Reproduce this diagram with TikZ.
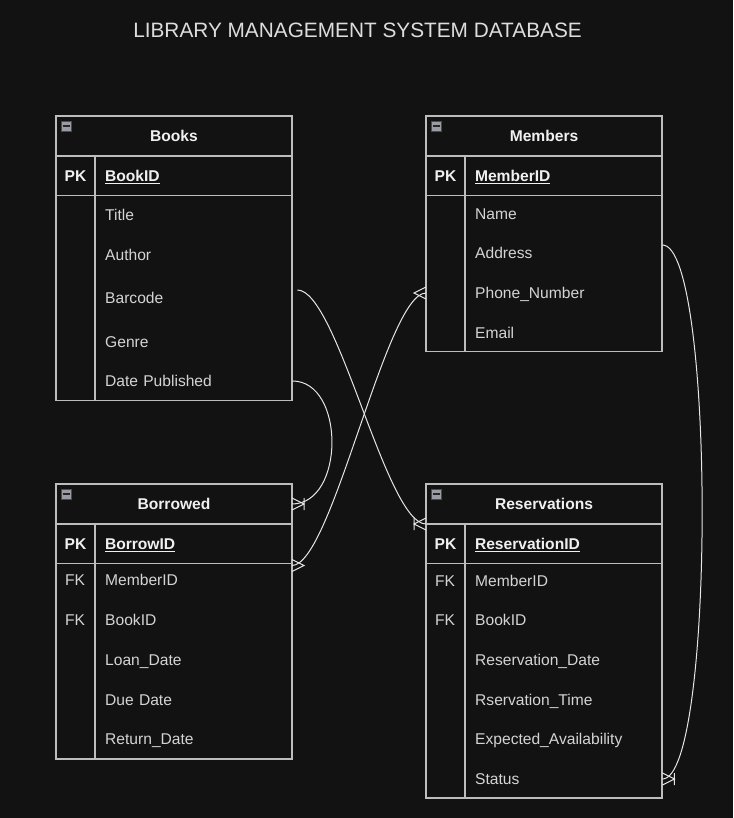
\documentclass[tikz,border=0pt]{standalone}
\usepackage{fontspec}
\setmainfont{Liberation Sans}
\usepackage{tikz}
\usetikzlibrary{positioning}

\definecolor{bgcol}{HTML}{121212}
\definecolor{linecol}{HTML}{BDBDBD}
\definecolor{edgecol}{HTML}{E6E6E6}
\definecolor{headcol}{HTML}{F0F0F0}
\definecolor{rowcol}{HTML}{D4D4D4}
\definecolor{btncol}{HTML}{9A9CA3}

\newcommand{\bodyfont}{\fontsize{15.6}{18}\selectfont}

\begin{document}
\begin{tikzpicture}[x=1pt, y=-1pt,
		tbl/.style={draw=linecol, line width=1.3pt, outer sep=0pt},
		hdr/.style={tbl, minimum width=236pt, minimum height=40pt, inner sep=0pt,
			font=\bodyfont\bfseries, text=headcol, text height=11.2pt, text depth=0pt},
		keycell/.style={tbl, minimum width=39pt, minimum height=39.5pt, inner sep=0pt,
			font=\bodyfont\bfseries, text=headcol, text height=11.2pt, text depth=0pt},
		fieldcell/.style={tbl, text width=177pt, inner xsep=10pt, inner ysep=0pt,
			minimum height=39.5pt, align=left,
			font=\bodyfont\bfseries, text=headcol, text height=11.2pt, text depth=0pt},
		keycol/.style={tbl, minimum width=39pt, inner sep=0pt},
		fieldcol/.style={tbl, minimum width=197pt, inner sep=0pt},
		row/.style={anchor=west, text width=177pt, inner xsep=10pt, inner ysep=0pt, align=left,
			font=\bodyfont, text=rowcol, text height=11.2pt, text depth=0pt},
		keytxt/.style={inner sep=0pt, font=\bodyfont, text=rowcol, text height=11.2pt, text depth=0pt},
		minusbtn/.style={draw=gray!60!black, fill=btncol, line width=0.5pt, minimum size=10pt,
			inner sep=0pt, anchor=north west,
			path picture={\draw[black!85, line width=1.6pt]
				([xshift=1.5pt]path picture bounding box.west) --
				([xshift=-1.5pt]path picture bounding box.east);}},
		conn/.style={draw=edgecol, line width=1pt},
		pics/crowfoot/.style={code={\draw[conn] (0,-6) -- (-12,0) -- (0,6);}},
		pics/crowbar/.style={code={\draw[conn] (0,-6) -- (-12,0) -- (0,6) (-12,-6) -- (-12,6);}}
		]

		\fill[bgcol] (0,0) rectangle (733,818);
		\useasboundingbox (0,0) rectangle (733,818);

		\node[font=\fontsize{20.8}{24}\selectfont, text=headcol!92!black] (title) at (357.5,30)
			{LIBRARY MANAGEMENT SYSTEM DATABASE};

		% Books
		\node[hdr, anchor=north west] (bk-hd) at (56,116) {Books};
		\node[keycell, anchor=north west] (bk-pkk) at (bk-hd.south west) {PK};
		\node[fieldcell, right=0pt of bk-pkk] (bk-pkf) {\underline{BookID}};
		\node[keycol, anchor=north west, minimum height=205pt] (bk-keys) at (bk-pkk.south west) {};
		\node[fieldcol, anchor=north west, minimum height=205pt] (bk-body) at (bk-keys.north east) {};
		\foreach \y/\n/\t in {215/title/Title, 255/author/Author, 298/barcode/Barcode,
			342/genre/Genre, 381/date/Date Published}
			\node[row] (bk-\n) at (95,\y) {\t};

		% Members
		\node[hdr, anchor=north west] (mb-hd) at (426,116) {Members};
		\node[keycell, anchor=north west] (mb-pkk) at (mb-hd.south west) {PK};
		\node[fieldcell, right=0pt of mb-pkk] (mb-pkf) {\underline{MemberID}};
		\node[keycol, anchor=north west, minimum height=156pt] (mb-keys) at (mb-pkk.south west) {};
		\node[fieldcol, anchor=north west, minimum height=156pt] (mb-body) at (mb-keys.north east) {};
		\foreach \y/\n/\t in {214/name/Name, 253/addr/Address, 293/phone/Phone\_Number, 333/email/Email}
			\node[row] (mb-\n) at (465,\y) {\t};
		\coordinate (mb-phone-in) at (mb-keys.west |- mb-phone.west);

		% Borrowed
		\node[hdr, anchor=north west] (bw-hd) at (56,484) {Borrowed};
		\node[keycell, anchor=north west] (bw-pkk) at (bw-hd.south west) {PK};
		\node[fieldcell, right=0pt of bw-pkk] (bw-pkf) {\underline{BorrowID}};
		\node[keycol, anchor=north west, minimum height=195.5pt] (bw-keys) at (bw-pkk.south west) {};
		\node[fieldcol, anchor=north west, minimum height=195.5pt] (bw-body) at (bw-keys.north east) {};
		\foreach \y/\n/\t in {580/member/MemberID, 620/book/BookID, 660/loan/Loan\_Date,
			700/due/Due Date, 739/ret/Return\_Date}
			\node[row] (bw-\n) at (95,\y) {\t};
		\node[keytxt] (bw-fk1) at (75,580) {FK};
		\node[keytxt] (bw-fk2) at (75,620) {FK};

		% Reservations
		\node[hdr, anchor=north west] (rs-hd) at (426,484) {Reservations};
		\node[keycell, anchor=north west] (rs-pkk) at (rs-hd.south west) {PK};
		\node[fieldcell, right=0pt of rs-pkk] (rs-pkf) {\underline{ReservationID}};
		\node[keycol, anchor=north west, minimum height=234.5pt] (rs-keys) at (rs-pkk.south west) {};
		\node[fieldcol, anchor=north west, minimum height=234.5pt] (rs-body) at (rs-keys.north east) {};
		\foreach \y/\n/\t in {581/member/MemberID, 620/book/BookID, 660/rdate/Reservation\_Date,
			700/rtime/Rservation\_Time, 739/avail/Expected\_Availability, 779/status/Status}
			\node[row] (rs-\n) at (465,\y) {\t};
		\node[keytxt] (rs-fk1) at (445,581) {FK};
		\node[keytxt] (rs-fk2) at (445,620) {FK};

		% collapse buttons
		\foreach \t in {bk,mb,bw,rs}
			\node[minusbtn] (\t-btn) at ([xshift=5pt, yshift=-5pt]\t-hd.north west) {};

		% relations
		\draw[conn] ([xshift=5pt, yshift=8pt]bk-barcode.east) .. controls +(40,0) and +(-40,0) .. (rs-hd.south west);
		\draw[conn] (bk-date.east) .. controls +(53,0) and +(53,0) .. (bw-hd.east);
		\draw[conn] ([yshift=-2pt]bw-pkf.south east) .. controls +(40,0) and +(-40,0) .. (mb-phone-in);
		\draw[conn] ([yshift=8pt]mb-addr.east) .. controls +(53,0) and +(53,0) .. (rs-status.east);

		\pic[xscale=-1] at (bw-hd.east) {crowbar};
		\pic at (rs-hd.south west) {crowbar};
		\pic at (mb-phone-in) {crowfoot};
		\pic[xscale=-1] at ([yshift=-2pt]bw-pkf.south east) {crowfoot};
		\pic[xscale=-1] at (rs-status.east) {crowbar};
	\end{tikzpicture}
\end{document}
